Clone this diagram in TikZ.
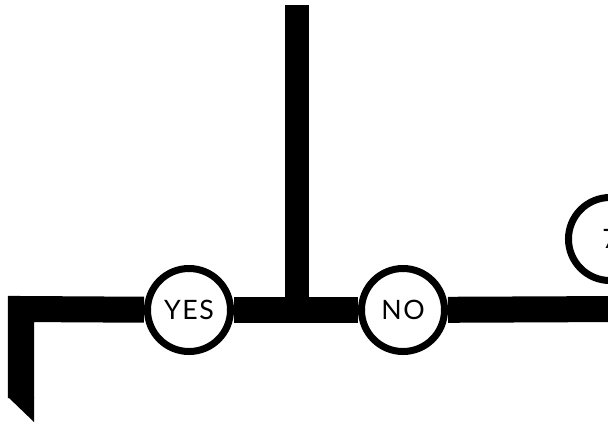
\documentclass[tikz,border=0pt]{standalone}
\usepackage{fontspec}
\setmainfont{Lato}
\newfontfamily\answerfont[LetterSpace=6]{Lato}
\begin{document}
\begin{tikzpicture}[x=0.025cm, y=-0.025cm]
    \tikzset{
        answer/.style={circle, draw, line width=0.175cm, fill=white,
            minimum size=2.075cm, inner sep=0pt,
            font=\answerfont\fontsize{19}{19}\selectfont},
        bar/.style={line width=0.65cm, miter limit=20},
    }
    \useasboundingbox (0,0) rectangle (608,424);
    \clip (0,0) rectangle (608,424);

    \node[answer] (yes) at (189,310) {YES};
    \node[answer] (no) at (403,310) {NO};
    \node[answer] (seven) at (610,239) {7};

    \coordinate (top) at (297,5);
    \coordinate (join) at (297,309);
    \coordinate (corner) at (21,309);
    \coordinate (legend) at (21,398);
    \coordinate (rim) at (620,309);

    \draw[bar, line width=0.6cm] (top) -- (join);
    \draw[bar] (legend) -- (corner) -- (yes);
    \draw[bar] (yes) -- (no);
    \draw[bar] (no) -- (rim);
    \fill (8,397) -- (34,397) -- (34,422) -- cycle;
\end{tikzpicture}
\end{document}
